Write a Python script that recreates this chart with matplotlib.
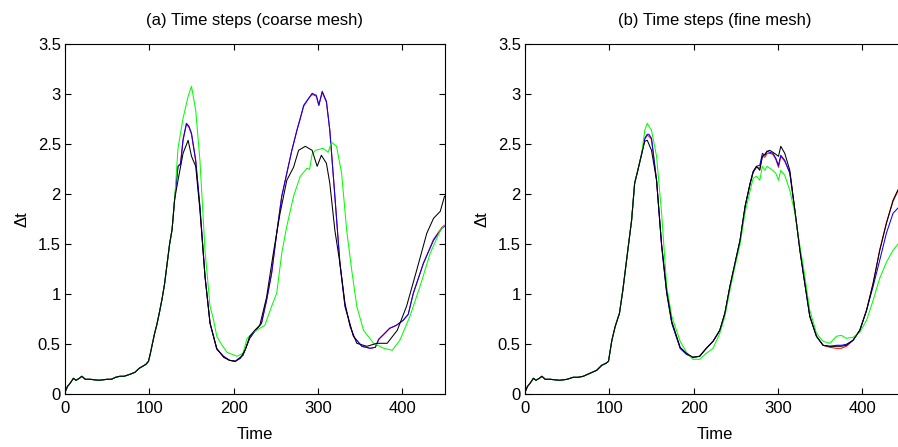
import numpy as np
import matplotlib
matplotlib.use('Agg')
import matplotlib.pyplot as plt
from matplotlib.ticker import FuncFormatter

plt.rcParams['font.family'] = ['Liberation Sans', 'DejaVu Sans']

# ---- early part, shared by all runs ----
t_early = [0, 3, 6, 10, 13, 17, 20, 24, 30, 40, 50, 55, 60, 65, 70, 77, 83, 88,
           92, 96, 99, 101, 103, 106, 109, 112, 115, 118, 121, 124, 127, 130]
dt_early = [0.02, 0.08, 0.11, 0.16, 0.14, 0.16, 0.18, 0.15, 0.15, 0.14, 0.15, 0.15,
            0.17, 0.18, 0.18, 0.20, 0.22, 0.26, 0.28, 0.30, 0.33, 0.40, 0.48, 0.60,
            0.70, 0.82, 0.95, 1.10, 1.30, 1.50, 1.65, 1.95]

# ---- (a) coarse mesh ----
t_a_black = [134, 140, 146, 150, 155, 160, 166, 172, 180, 188, 195, 202, 208, 214, 219,
             225, 231, 239, 247, 255, 263, 271, 277, 285, 293, 299, 304, 310, 314, 320,
             326, 332, 338, 346, 358, 370, 382, 394, 405, 417, 429, 437, 445, 450]
dt_a_black = [2.14, 2.41, 2.54, 2.38, 2.28, 1.84, 1.18, 0.71, 0.46, 0.37, 0.34, 0.33,
              0.36, 0.45, 0.58, 0.64, 0.69, 0.97, 1.41, 1.81, 2.14, 2.27, 2.44, 2.48,
              2.44, 2.28, 2.39, 2.31, 2.11, 1.64, 1.31, 0.91, 0.68, 0.51, 0.48, 0.51,
              0.51, 0.64, 0.88, 1.24, 1.61, 1.76, 1.83, 1.98]

t_a_blue = [134, 137, 140, 144, 147, 150, 155, 160, 166, 172, 180, 188, 195, 202, 211,
            219, 225, 233, 239, 245, 251, 257, 263, 269, 275, 279, 283, 289, 293, 298,
            301, 305, 310, 314, 320, 326, 332, 342, 352, 362, 368, 372, 378, 385, 393,
            401, 407, 413, 425, 437, 447, 450]
dt_a_blue = [2.28, 2.30, 2.55, 2.71, 2.68, 2.61, 2.34, 1.88, 1.18, 0.71, 0.45, 0.38,
             0.34, 0.33, 0.39, 0.56, 0.63, 0.71, 0.94, 1.21, 1.61, 1.98, 2.21, 2.44,
             2.64, 2.76, 2.89, 2.96, 3.01, 2.99, 2.89, 3.03, 2.93, 2.64, 1.98, 1.31,
             0.88, 0.58, 0.48, 0.46, 0.47, 0.55, 0.60, 0.66, 0.69, 0.74, 0.80, 1.01,
             1.31, 1.54, 1.66, 1.68]

t_a_red = t_a_blue
dt_a_red = [2.28, 2.31, 2.54, 2.70, 2.67, 2.60, 2.33, 1.87, 1.18, 0.71, 0.45, 0.38,
            0.34, 0.33, 0.39, 0.56, 0.63, 0.71, 0.94, 1.21, 1.61, 1.98, 2.21, 2.44,
            2.64, 2.76, 2.88, 2.96, 3.00, 2.98, 2.89, 3.02, 2.92, 2.64, 1.98, 1.31,
            0.88, 0.58, 0.48, 0.46, 0.47, 0.55, 0.60, 0.66, 0.69, 0.74, 0.80, 1.01,
            1.31, 1.55, 1.67, 1.69]

t_a_green = [134, 140, 146, 150, 155, 160, 166, 172, 176, 180, 184, 192, 204, 211, 216,
             225, 237, 245, 251, 257, 263, 271, 279, 287, 290, 293, 297, 306, 312, 316,
             322, 328, 334, 340, 346, 354, 366, 378, 388, 397, 409, 421, 433, 445, 450]
dt_a_green = [2.46, 2.76, 2.98, 3.08, 2.84, 2.34, 1.44, 0.88, 0.75, 0.58, 0.52, 0.42,
              0.38, 0.41, 0.56, 0.63, 0.69, 0.88, 1.01, 1.41, 1.68, 1.98, 2.18, 2.26,
              2.25, 2.40, 2.44, 2.46, 2.42, 2.52, 2.48, 2.21, 1.64, 1.24, 0.88, 0.64,
              0.51, 0.46, 0.44, 0.54, 0.78, 1.08, 1.41, 1.64, 1.69]

# ---- (b) fine mesh ----
t_b_early = [0, 3, 6, 10, 13, 17, 20, 24, 30, 41, 50, 57, 63, 69, 77, 85, 91, 96, 99,
             103, 107, 112, 116, 118.5, 122.5, 126.4, 130, 133.5, 138.5]
dt_b_early = [0.02, 0.08, 0.11, 0.16, 0.14, 0.16, 0.18, 0.15, 0.15, 0.14, 0.15, 0.17,
              0.17, 0.18, 0.21, 0.24, 0.29, 0.31, 0.33, 0.54, 0.68, 0.81, 1.04, 1.21,
              1.48, 1.74, 2.11, 2.23, 2.41]

t_b = [142, 145, 147, 150, 156, 162, 168, 174, 184, 191.5, 199, 207, 215, 223, 231,
       237, 243, 249, 255, 261, 267, 270.5, 274.5, 278.4, 281.5, 284.4, 287, 290.3,
       294, 297.4, 300.6, 303.3, 308, 314, 320, 326, 330, 337.7, 345.6, 353.5, 361.4,
       369.3, 375, 381, 389, 397, 405, 412.8, 420.6, 428.5, 436.4, 442, 446]
dt_b_black = [2.53, 2.54, 2.50, 2.44, 2.14, 1.50, 1.03, 0.73, 0.47, 0.41, 0.37, 0.38,
              0.46, 0.53, 0.64, 0.81, 1.08, 1.31, 1.54, 1.88, 2.11, 2.22, 2.28, 2.24,
              2.38, 2.40, 2.43, 2.44, 2.42, 2.40, 2.38, 2.48, 2.41, 2.24, 1.84, 1.44,
              1.21, 0.78, 0.58, 0.49, 0.48, 0.48, 0.48, 0.49, 0.54, 0.64, 0.84, 1.11,
              1.44, 1.71, 1.94, 2.04, 2.10]
dt_b_blue = [2.56, 2.60, 2.60, 2.56, 2.14, 1.48, 1.01, 0.71, 0.46, 0.40, 0.37, 0.38,
             0.46, 0.53, 0.64, 0.81, 1.08, 1.31, 1.54, 1.88, 2.11, 2.23, 2.28, 2.29,
             2.41, 2.39, 2.43, 2.42, 2.41, 2.36, 2.29, 2.39, 2.34, 2.21, 1.84, 1.44,
             1.21, 0.78, 0.58, 0.49, 0.48, 0.49, 0.49, 0.50, 0.54, 0.64, 0.84, 1.08,
             1.34, 1.61, 1.81, 1.86, 1.90]
dt_b_red = [2.55, 2.59, 2.58, 2.55, 2.14, 1.49, 1.02, 0.72, 0.46, 0.40, 0.37, 0.38,
            0.46, 0.53, 0.64, 0.81, 1.08, 1.31, 1.54, 1.88, 2.11, 2.22, 2.27, 2.26,
            2.38, 2.37, 2.41, 2.41, 2.40, 2.35, 2.27, 2.38, 2.33, 2.22, 1.84, 1.44,
            1.21, 0.78, 0.58, 0.49, 0.47, 0.46, 0.46, 0.48, 0.54, 0.64, 0.84, 1.11,
            1.44, 1.71, 1.93, 2.03, 2.09]
dt_b_green = [2.64, 2.71, 2.68, 2.64, 2.38, 1.81, 1.08, 0.78, 0.53, 0.42, 0.35, 0.35,
              0.41, 0.46, 0.61, 0.78, 1.04, 1.28, 1.50, 1.82, 2.04, 2.16, 2.18, 2.14,
              2.28, 2.24, 2.28, 2.26, 2.24, 2.21, 2.14, 2.24, 2.19, 2.04, 1.81, 1.48,
              1.28, 0.84, 0.61, 0.53, 0.51, 0.58, 0.59, 0.56, 0.57, 0.62, 0.74, 0.94,
              1.16, 1.32, 1.44, 1.50, 1.54]

colors = {'red': '#ff0000', 'blue': '#0000ff', 'green': '#00ff00', 'black': '#000000'}

panel_a = [
    ('red', t_early + t_a_red, dt_early + dt_a_red),
    ('blue', t_early + t_a_blue, dt_early + dt_a_blue),
    ('green', t_early + t_a_green, dt_early + dt_a_green),
    ('black', t_early + t_a_black, dt_early + dt_a_black),
]
panel_b = [
    ('red', t_b_early + t_b, dt_b_early + dt_b_red),
    ('blue', t_b_early + t_b, dt_b_early + dt_b_blue),
    ('green', t_b_early + t_b, dt_b_early + dt_b_green),
    ('black', t_b_early + t_b, dt_b_early + dt_b_black),
]

fig = plt.figure(figsize=(8.98, 4.47), dpi=100)
W, H = 898, 447
ax_a = fig.add_axes([65 / W, (H - 394.3) / H, 379.5 / W, 350 / H])
ax_b = fig.add_axes([525 / W, (H - 394.3) / H, 379.5 / W, 350 / H])

for ax, lines, title in [(ax_a, panel_a, '(a) Time steps (coarse mesh)'),
                         (ax_b, panel_b, '(b) Time steps (fine mesh)')]:
    for name, t, dt in lines:
        ax.plot(t, dt, color=colors[name], lw=0.75)
    ax.set_xlim(0, 450)
    ax.set_ylim(0, 3.5)
    ax.set_xticks([0, 100, 200, 300, 400])
    ax.set_yticks(np.arange(0, 3.51, 0.5))
    ax.yaxis.set_major_formatter(FuncFormatter(lambda v, p: '%g' % v))
    ax.tick_params(direction='in', length=4, width=0.8, labelsize=12,
                   top=True, right=True, pad=3)
    ax.tick_params(axis='x', pad=5)
    for s in ax.spines.values():
        s.set_linewidth(0.8)
    ax.set_title(title, fontsize=12, pad=14)
    ax.set_xlabel('Time', fontsize=12, labelpad=8)
    ax.set_ylabel('Δt', fontsize=12, labelpad=6)

fig.savefig('out.png', dpi=100)
